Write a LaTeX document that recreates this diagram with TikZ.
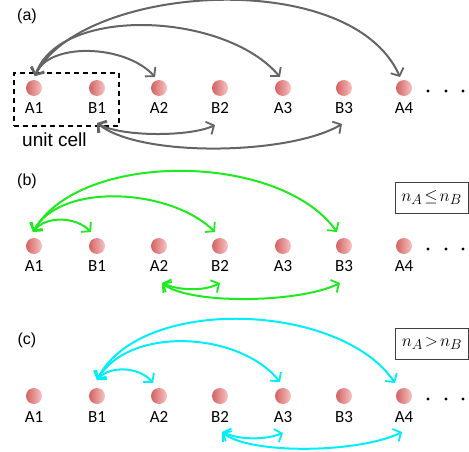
\documentclass[tikz,border=0pt]{standalone}
\usepackage{fontspec}
\setmainfont{Carlito}
\newfontfamily\arialf{Liberation Sans}
\usetikzlibrary{arrows.meta}
\definecolor{dotL}{RGB}{212,98,98}
\definecolor{dotM}{RGB}{224,118,118}
\definecolor{dotR}{RGB}{246,196,196}
\definecolor{garr}{RGB}{100,100,100}
\definecolor{grarr}{RGB}{30,235,30}
\definecolor{cyarr}{RGB}{0,238,250}
\tikzset{
  dot/.style={circle,inner sep=0pt,minimum size=16pt,left color=dotL,middle color=dotM,right color=dotR},
  lab/.style={font=\fontsize{17}{19}\selectfont,inner sep=0pt},
  plab/.style={font=\arialf\fontsize{16}{18}\selectfont,inner sep=0pt},
  hop/.style={line width=2pt,{Straight Barb[length=6pt,width=14pt,line width=1.8pt]}-{Straight Barb[length=6pt,width=14pt,line width=1.8pt]}},
  edot/.style={circle,fill=black,inner sep=0pt,minimum size=3.2pt},
  cond/.style={draw=black!75,line width=0.9pt,inner sep=0pt,font=\fontsize{19}{21}\selectfont,minimum width=73pt,minimum height=31pt}
}
\begin{document}
\begin{tikzpicture}[x=1pt,y=-1pt]
\useasboundingbox (0,0) rectangle (469,452);
% ---------- panel (a)
\node[plab] (pa) at (27,16) {(a)};
\foreach \n/\x in {A1/34,B1/97,A2/159,B2/220,A3/283,B3/344,A4/404}{
  \node[dot] (a\n) at (\x,88) {};
  \node[lab] (la\n) at (\x,108) {\n};
}
\node[edot] (ae1) at (428,91) {};
\node[edot] (ae2) at (446,91) {};
\node[edot] (ae3) at (463,91) {};
\node[draw,dash pattern=on 5pt off 4pt,line width=1.2pt,minimum width=105pt,minimum height=53pt,inner sep=0pt] (cell) at (66.5,99.5) {};
\node[plab,anchor=west,font=\arialf\fontsize{19}{21}\selectfont] (ucl) at (22,140) {unit cell};
\coordinate (aA1t) at (35,76);
\coordinate (aA2t) at (155,77);
\coordinate (aA3t) at (280,77);
\coordinate (aA4t) at (400,77);
\coordinate (aB1b) at (97,123);
\coordinate (aB2b) at (215,125);
\coordinate (aB3b) at (342,124);
\draw[hop,garr] (aA1t) .. controls (48,42) and (125,44) .. (aA2t);
\draw[hop,garr] (aA1t) .. controls (60,5) and (225,12) .. (aA3t);
\draw[hop,garr] (aA1t) .. controls (80,-15) and (350,-35) .. (aA4t);
\draw[hop,garr] (aB1b) .. controls (120,137) and (190,137) .. (aB2b);
\draw[hop,garr] (aB1b) .. controls (140,158) and (290,155) .. (aB3b);
% ---------- panel (b)
\node[plab] (pb) at (27,181) {(b)};
\foreach \n/\x in {A1/34,B1/97,A2/159,B2/220,A3/283,B3/344,A4/404}{
  \node[dot] (b\n) at (\x,246) {};
  \node[lab] (lb\n) at (\x,266) {\n};
}
\node[edot] (be1) at (428,249) {};
\node[edot] (be2) at (446,249) {};
\node[edot] (be3) at (463,249) {};
\node[cond] (cb) at (431.5,197.5) {${n_A}\mskip2mu{\leq}\mskip2mu{n_B}$};
\coordinate (bA1t) at (33,232);
\coordinate (bB1t) at (91,232);
\coordinate (bB2t) at (215,232);
\coordinate (bB3t) at (337,232);
\coordinate (bA2b) at (162,283);
\coordinate (bB2b) at (220,283);
\coordinate (bB3b) at (340,283);
\draw[hop,grarr] (bA1t) .. controls (45,216) and (75,216) .. (bB1t);
\draw[hop,grarr] (bA1t) .. controls (60,182) and (170,188) .. (bB2t);
\draw[hop,grarr] (bA1t) .. controls (80,150) and (280,152) .. (bB3t);
\draw[hop,grarr] (bA2b) .. controls (180,291) and (205,291) .. (bB2b);
\draw[hop,grarr] (bA2b) .. controls (190,305) and (300,303) .. (bB3b);
% ---------- panel (c)
\node[plab] (pc) at (27,340) {(c)};
\foreach \n/\x in {A1/34,B1/97,A2/159,B2/220,A3/283,B3/344,A4/404}{
  \node[dot] (c\n) at (\x,396) {};
  \node[lab] (lc\n) at (\x,417) {\n};
}
\node[edot] (ce1) at (428,399) {};
\node[edot] (ce2) at (446,399) {};
\node[edot] (ce3) at (463,399) {};
\node[cond] (cc) at (432,343.5) {${n_A}\mskip2mu{>}\mskip2mu{n_B}$};
\coordinate (cB1t) at (97,380);
\coordinate (cA2t) at (153,383);
\coordinate (cA3t) at (280,382);
\coordinate (cA4t) at (395,383);
\coordinate (cB2b) at (222,432);
\coordinate (cA3b) at (283,433);
\coordinate (cA4b) at (402,432);
\draw[hop,cyarr] (cB1t) .. controls (110,365) and (140,367) .. (cA2t);
\draw[hop,cyarr] (cB1t) .. controls (130,325) and (240,332) .. (cA3t);
\draw[hop,cyarr] (cB1t) .. controls (140,295) and (340,302) .. (cA4t);
\draw[hop,cyarr] (cB2b) .. controls (240,440) and (265,440) .. (cA3b);
\draw[hop,cyarr] (cB2b) .. controls (250,455) and (360,453) .. (cA4b);
\end{tikzpicture}
\end{document}
